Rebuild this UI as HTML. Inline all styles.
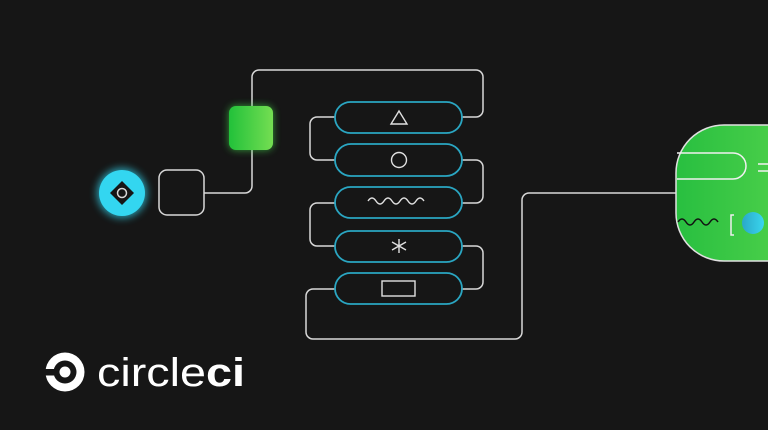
<!DOCTYPE html>
<html><head><meta charset="utf-8"><style>
html,body{margin:0;padding:0;background:#161616;}
svg{display:block}
</style></head><body>
<svg width="768" height="430" viewBox="0 0 768 430" xmlns="http://www.w3.org/2000/svg">
<defs>
<linearGradient id="g1" x1="0" x2="1"><stop offset="0" stop-color="#22c13a"/><stop offset="1" stop-color="#74de52"/></linearGradient>
<linearGradient id="g2" x1="0" x2="1"><stop offset="0" stop-color="#28bf40"/><stop offset="1" stop-color="#5ad64e"/></linearGradient>
<linearGradient id="g3" x1="0" x2="1"><stop offset="0" stop-color="#2aa8c8"/><stop offset="1" stop-color="#3ad6ee"/></linearGradient>
<filter id="glow" x="-50%" y="-50%" width="200%" height="200%"><feGaussianBlur stdDeviation="4"/></filter>
</defs>
<rect width="768" height="430" fill="#161616"/>
<g fill="none" stroke="#d8d8d8" stroke-width="1.5">
<path d="M204 193 H245 a7 7 0 0 0 7 -7 V77 a7 7 0 0 1 7 -7 H476 a7 7 0 0 1 7 7 V110 a7 7 0 0 1 -7 7 H461"/>
<path d="M335 117 H317 a7 7 0 0 0 -7 7 V153 a7 7 0 0 0 7 7 H335"/>
<path d="M461 160 H476 a7 7 0 0 1 7 7 V196 a7 7 0 0 1 -7 7 H461"/>
<path d="M335 203 H317 a7 7 0 0 0 -7 7 V239 a7 7 0 0 0 7 7 H335"/>
<path d="M461 246 H476 a7 7 0 0 1 7 7 V282 a7 7 0 0 1 -7 7 H461"/>
<path d="M335 289 H313 a7 7 0 0 0 -7 7 V332 a7 7 0 0 0 7 7 H515 a7 7 0 0 0 7 -7 V200 a7 7 0 0 1 7 -7 H677"/>
<rect x="159" y="170" width="45" height="45" rx="8"/>
</g>
<rect x="229" y="106" width="44" height="44" rx="7" fill="#3fd64a" filter="url(#glow)" opacity="0.7"/>
<rect x="229" y="106" width="44" height="44" rx="7" fill="url(#g1)"/>
<circle cx="122" cy="193" r="25" fill="#30d4ee" filter="url(#glow)" opacity="0.7"/>
<circle cx="122" cy="193" r="23" fill="#33d6f0"/>
<path d="M122 181 L134 193 L122 205 L110 193 Z" fill="#161616"/>
<circle cx="122" cy="193" r="4.5" fill="none" stroke="#d8d8d8" stroke-width="1.5"/>
<g fill="none" stroke="#2aa6c2" stroke-width="1.8">
<rect x="335" y="102" width="127" height="31" rx="15.5"/>
<rect x="335" y="144" width="127" height="32" rx="16"/>
<rect x="335" y="187" width="127" height="31" rx="15.5"/>
<rect x="335" y="231" width="127" height="31" rx="15.5"/>
<rect x="335" y="273" width="127" height="31" rx="15.5"/>
</g>
<g fill="none" stroke="#e0e0e0" stroke-width="1.4">
<path d="M399 111 L407 124 L391 124 Z"/>
<circle cx="399" cy="160" r="7.5"/>
<path d="M368 201 q4 -6 8 0 t8 0 t8 0 t8 0 t8 0 t8 0 t8 0"/>
<path d="M399 239 V253 M392 242 L406 250 M406 242 L392 250"/>
<rect x="382" y="281" width="33" height="15"/>
</g>
<rect x="676" y="125" width="150" height="136" rx="48" fill="url(#g2)" stroke="#e0e0e0" stroke-width="1.5"/>
<path d="M677 153 H733 a13 13 0 0 1 0 26 H677" fill="none" stroke="#f0f0f0" stroke-width="1.5"/>
<path d="M758 164 H768 M758 171 H768" stroke="#f0f0f0" stroke-width="1.5"/>
<path d="M678 222 q4 -6 8 0 t8 0 t8 0 t8 0 t8 0" fill="none" stroke="#111" stroke-width="1.5"/>
<path d="M734 215 H731 V235 H734" fill="none" stroke="#eee" stroke-width="1.5"/>
<circle cx="753" cy="223" r="11" fill="url(#g3)"/>
<circle cx="65" cy="372" r="19.5" fill="#fff"/>
<circle cx="65" cy="372" r="11.5" fill="#161616"/>
<rect x="44" y="369" width="12" height="6.5" fill="#161616"/>
<circle cx="65" cy="372" r="5.5" fill="#fff"/>
<text x="97" y="386" font-family="Liberation Sans, sans-serif" font-size="40" fill="#fff" textLength="148" lengthAdjust="spacingAndGlyphs">circle<tspan font-weight="bold">ci</tspan></text>
</svg>
</body></html>
